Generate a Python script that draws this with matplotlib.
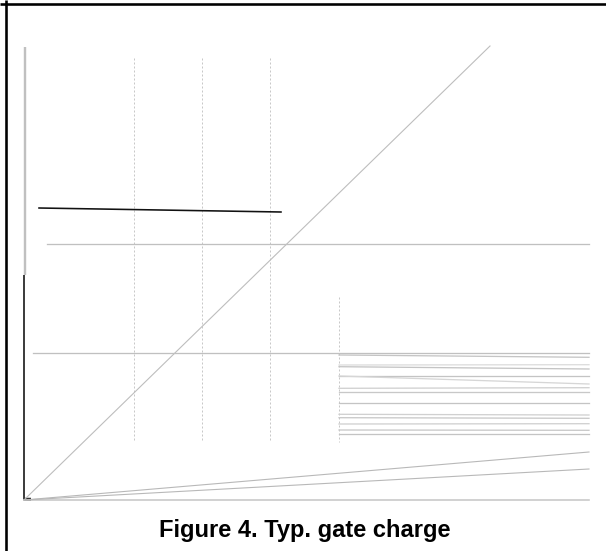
import matplotlib.pyplot as plt

# canvas size in pixels; the chart is drawn in pixel-like data units
W, H = 606, 551

# page frame (top rule and left rule)
frame_top_y = 4
frame_left_x = 6

# axes of the plot
axis_x = 24
axis_y = 500
axis_right = 589
axis_gray_top = 47
axis_black_top = 275

# dotted vertical grid lines
grid_x = [134, 202, 270]
grid_top = 58
grid_bottom = 442
grid2_x = 339
grid2_top = 297

# gate charge ramp (diagonal)
ramp_x = [24, 490]
ramp_y = [500, 46]

# near-flat dark line
dark_x = [39, 281]
dark_y = [208, 212]

# long gray horizontals
hline_y = [244, 353]
hline_start = [47, 33]

# bundle of lines between grid2_x and axis_right
bundle_left = [355, 365, 366.7, 376, 376, 388.3, 391.7, 403.3, 414.3, 417.7, 424, 430, 434.3]
bundle_right = [357.3, 364.7, 369, 376, 384, 387.7, 391.7, 403.3, 415, 418.3, 423.7, 430.3, 434.3]
bundle_color = ["#c4c4c4", "#dcdcdc", "#c4c4c4", "#c4c4c4", "#d6d6d6", "#d0d0d0", "#c8c8c8",
                "#c4c4c4", "#d0d0d0", "#c8c8c8", "#d0d0d0", "#c8c8c8", "#c4c4c4"]

# low slope lines leaving the origin
low_right_y = [452, 469]

title = "Figure 4. Typ. gate charge"

px = 0.72  # one pixel in points at 100 dpi

fig = plt.figure(figsize=(W / 100, H / 100), dpi=100)
ax = fig.add_axes([0, 0, 1, 1])
ax.set_xlim(0, W)
ax.set_ylim(H, 0)
ax.axis("off")

# frame
ax.plot([0, W], [frame_top_y, frame_top_y], color="black", lw=2.6 * px, solid_capstyle="butt")
ax.plot([frame_left_x, frame_left_x], [0, H], color="black", lw=2.6 * px, solid_capstyle="butt")

# axes
ax.plot([axis_x + 1, axis_x + 1], [axis_gray_top, axis_black_top], color="#c0c0c0", lw=2.4 * px,
        solid_capstyle="butt")
ax.plot([axis_x, axis_x], [axis_black_top, axis_y], color="black", lw=1.5 * px, solid_capstyle="butt")
ax.plot([axis_x, axis_right], [axis_y, axis_y], color="#c8c8c8", lw=1.6 * px)
ax.plot([axis_x, axis_x + 7], [axis_y - 1, axis_y - 1], color="#333333", lw=2.5 * px,
        solid_capstyle="butt")

# dotted grid
for gx in grid_x:
    ax.plot([gx, gx], [grid_top, grid_bottom], color="#c8c8c8", lw=1 * px, ls=(0, (2, 2)))
ax.plot([grid2_x, grid2_x], [grid2_top, grid_bottom], color="#c8c8c8", lw=1 * px, ls=(0, (2, 2)))

# ramp
ax.plot(ramp_x, ramp_y, color="#bdbdbd", lw=1.1 * px)

# dark line
ax.plot(dark_x, dark_y, color="#111111", lw=1.6 * px)

# long horizontals
for y, x0 in zip(hline_y, hline_start):
    ax.plot([x0, axis_right], [y, y], color="#c0c0c0", lw=1.3 * px)

# bundle
for yl, yr, c in zip(bundle_left, bundle_right, bundle_color):
    ax.plot([grid2_x, axis_right], [yl, yr], color=c, lw=1.3 * px)

# low slope lines
for yr in low_right_y:
    ax.plot([axis_x, axis_right], [axis_y, yr], color="#b8b8b8", lw=1.1 * px)

ax.text(305, 537, title, ha="center", va="baseline", fontsize=17,
        fontweight="bold", family=["Liberation Sans", "DejaVu Sans"])

fig.savefig("out.png", dpi=100)
